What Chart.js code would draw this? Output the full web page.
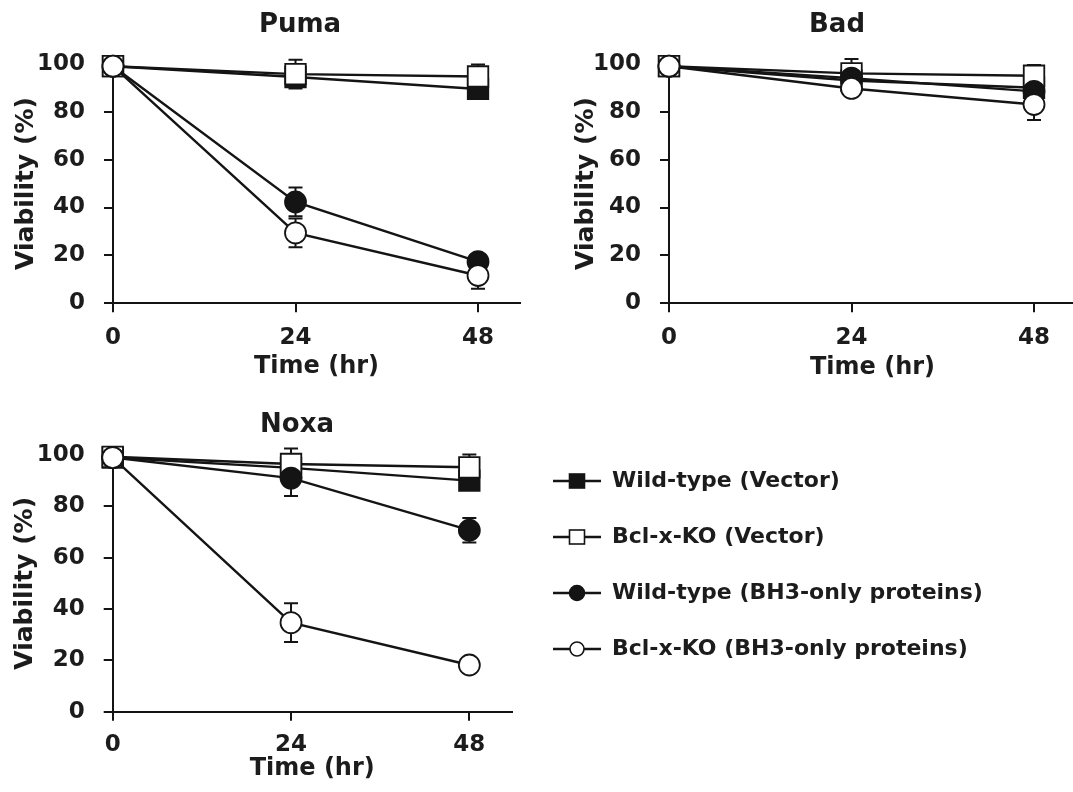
<!DOCTYPE html>
<html>
<head>
<meta charset="utf-8">
<title>Viability time course</title>
<script src="https://cdn.jsdelivr.net/npm/chart.js@4.4.1/dist/chart.umd.min.js"></script>
<style>
  html, body { margin: 0; padding: 0; background: #ffffff; }
  body { width: 1073px; height: 792px; overflow: hidden; position: relative; }
  canvas.panel { position: absolute; }
</style>
</head>
<body>
<canvas id="puma" class="panel" width="540" height="395" style="left:0px;top:0px"></canvas>
<canvas id="bad" class="panel" width="540" height="395" style="left:556px;top:0px"></canvas>
<canvas id="noxa" class="panel" width="540" height="397" style="left:0px;top:395px"></canvas>
<canvas id="legend" class="panel" width="554" height="280" style="left:519px;top:436px"></canvas>
<script>
// ---------------- data ----------------
const times = [0, 24, 48];
const xTickValues = [0, 24, 48];
const xTickLabels = ['0', '24', '48'];
const yTickValues = [0, 20, 40, 60, 80, 100];
const seriesLabels = ['Wild-type (Vector)', 'Bcl-x-KO (Vector)', 'Wild-type (BH3-only proteins)', 'Bcl-x-KO (BH3-only proteins)'];
const panelTitles = ['Puma', 'Bad', 'Noxa'];

// Puma
const pumaWtVec = [99, 94.5, 89.5];
const pumaKoVec = [99, 95.7, 94.7];
const pumaWtBh3 = [99, 42.3, 17.4];
const pumaKoBh3 = [99, 29.4, 11.6];
const pumaWtVecErr = [0, 2, 2];
const pumaKoVecErr = [0, 6, 5];
const pumaWtBh3Err = [0, 6, 2];
const pumaKoBh3Err = [0, 6, 5.5];

// Bad
const badWtVec = [99, 93, 90];
const badKoVec = [99, 96, 95];
const badWtBh3 = [99, 94, 88.5];
const badKoBh3 = [99, 89.7, 83];
const badWtVecErr = [0, 2, 2];
const badKoVecErr = [0, 6, 4.5];
const badWtBh3Err = [0, 2, 2.5];
const badKoBh3Err = [0, 2, 6.5];

// Noxa
const noxaWtVec = [99, 95, 90];
const noxaKoVec = [99.3, 96.5, 95.2];
const noxaWtBh3 = [99, 91, 70.7];
const noxaKoBh3 = [99, 34.7, 18.2];
const noxaWtVecErr = [0, 2, 2];
const noxaKoVecErr = [3, 6, 5];
const noxaWtBh3Err = [0, 7, 4.8];
const noxaKoBh3Err = [0, 7.5, 1];

// ---------------- styles ----------------
const INK = '#141414';
const TEXT = '#1c1c1c';
const FONT = 'DejaVu Sans';

const seriesStyles = [
  { pointStyle: 'rect',   filled: true,  radius: 14.5, order: 4 },
  { pointStyle: 'rect',   filled: false, radius: 14.5, order: 3 },
  { pointStyle: 'circle', filled: true,  radius: 10.5, order: 2 },
  { pointStyle: 'circle', filled: false, radius: 10.5, order: 1 }
];

function makeDatasets(values, errors) {
  return values.map((vals, i) => {
    const st = seriesStyles[i];
    return {
      label: seriesLabels[i],
      data: times.map((t, k) => ({ x: t, y: vals[k] })),
      errors: errors[i],
      borderColor: INK,
      borderWidth: 2.4,
      tension: 0,
      fill: false,
      pointStyle: st.pointStyle,
      pointRadius: st.radius,
      pointHoverRadius: st.radius,
      pointBackgroundColor: st.filled ? INK : '#ffffff',
      pointBorderColor: INK,
      pointBorderWidth: 1.8,
      order: st.order,
      clip: false
    };
  });
}

// error bars drawn beneath the markers, positioned with the chart's scales
const errorBars = {
  id: 'errorBars',
  beforeDatasetsDraw(chart) {
    const { ctx } = chart;
    const xs = chart.scales.x, ys = chart.scales.y;
    ctx.save();
    ctx.strokeStyle = INK;
    ctx.lineWidth = 2;
    chart.data.datasets.forEach(ds => {
      if (!ds.errors) return;
      ds.data.forEach((p, k) => {
        const e = ds.errors[k];
        if (!e) return;
        const px = xs.getPixelForValue(p.x);
        const top = ys.getPixelForValue(p.y + e);
        const bot = ys.getPixelForValue(p.y - e);
        ctx.beginPath();
        ctx.moveTo(px, top); ctx.lineTo(px, bot);
        ctx.moveTo(px - 7, top); ctx.lineTo(px + 7, top);
        ctx.moveTo(px - 7, bot); ctx.lineTo(px + 7, bot);
        ctx.stroke();
      });
    });
    ctx.restore();
  }
};

// panel heading (centred where the original figure places it)
const panelTitle = {
  id: 'panelTitle',
  afterDraw(chart, args, opts) {
    const ctx = chart.ctx;
    ctx.save();
    ctx.font = 'bold ' + opts.size + 'px "' + FONT + '"';
    ctx.fillStyle = TEXT;
    ctx.textAlign = 'center';
    ctx.textBaseline = 'middle';
    ctx.fillText(opts.text, opts.x, opts.y);
    ctx.restore();
  }
};

function panelOptions(p) {
  const axisGrid = { display: true, drawOnChartArea: false, drawTicks: true, tickLength: 9, color: INK, lineWidth: 2 };
  const axisBorder = { display: true, color: INK, width: 2 };
  const tickFont = { family: FONT, size: 23, weight: 'bold' };
  return {
    responsive: false,
    animation: false,
    devicePixelRatio: 1,
    events: [],
    layout: { padding: { left: 0, right: p.padR, top: p.padT, bottom: p.padB } },
    plugins: {
      legend: { display: false },
      tooltip: { enabled: false },
      title: { display: false },
      panelTitle: { text: p.title, x: p.titleX, y: p.titleY, size: 26 }
    },
    scales: {
      x: {
        type: 'linear', min: 0, max: p.xMax,
        afterBuildTicks: s => { s.ticks = xTickValues.map(v => ({ value: v })); },
        afterFit: s => { s.height = p.xH; },
        grid: axisGrid, border: axisBorder,
        ticks: { color: TEXT, font: tickFont, padding: p.xTickPad, maxRotation: 0, autoSkip: false,
                 callback: (v, i) => xTickLabels[i] },
        title: { display: true, text: 'Time (hr)', color: TEXT,
                 font: { family: FONT, size: 24, weight: 'bold' }, padding: 0 }
      },
      y: {
        type: 'linear', min: 0, max: 100,
        afterBuildTicks: s => { s.ticks = yTickValues.map(v => ({ value: v })); },
        afterFit: s => { s.width = p.yW; },
        grid: axisGrid, border: axisBorder,
        ticks: { color: TEXT, font: tickFont, padding: 19, callback: v => String(v) },
        title: { display: true, text: 'Viability (%)', color: TEXT,
                 font: { family: FONT, size: 25, weight: 'bold' },
                 padding: { top: p.yTitlePad, bottom: 0 } }
      }
    }
  };
}

function makePanel(id, values, errors, p) {
  return new Chart(document.getElementById(id), {
    type: 'line',
    data: { datasets: makeDatasets(values, errors) },
    options: panelOptions(p),
    plugins: [errorBars, panelTitle]
  });
}

makePanel('puma',
  [pumaWtVec, pumaKoVec, pumaWtBh3, pumaKoBh3],
  [pumaWtVecErr, pumaKoVecErr, pumaWtBh3Err, pumaKoBh3Err],
  { title: panelTitles[0], titleX: 300, titleY: 25, yW: 113, padR: 20, padT: 63.8, padB: 13.6, xH: 78.1,
    xMax: 53.52, yTitlePad: 11, xTickPad: 11.9 });

makePanel('bad',
  [badWtVec, badKoVec, badWtBh3, badKoBh3],
  [badWtVecErr, badKoVecErr, badWtBh3Err, badKoBh3Err],
  { title: panelTitles[1], titleX: 281, titleY: 25, yW: 113, padR: 20, padT: 63.8, padB: 12.6, xH: 79.1,
    xMax: 53.52, yTitlePad: 15, xTickPad: 11.9 });

makePanel('noxa',
  [noxaWtVec, noxaKoVec, noxaWtBh3, noxaKoBh3],
  [noxaWtVecErr, noxaKoVecErr, noxaWtBh3Err, noxaKoBh3Err],
  { title: panelTitles[2], titleX: 297, titleY: 30, yW: 112.7, padR: 28.3, padT: 60, padB: 8.6, xH: 71.7,
    xMax: 53.7, yTitlePad: 10, xTickPad: 10.5 });

// ---------------- legend ----------------
function makeIcon(st) {
  const c = document.createElement('canvas');
  c.width = 48; c.height = 24;
  const g = c.getContext('2d');
  g.strokeStyle = INK; g.lineWidth = 2.6;
  g.beginPath(); g.moveTo(0, 12); g.lineTo(48, 12); g.stroke();
  g.fillStyle = st.filled ? INK : '#ffffff';
  g.lineWidth = 1.6;
  if (st.pointStyle === 'rect') {
    g.fillRect(24 - 7.5, 12 - 7, 15, 14);
    g.strokeRect(24 - 7.5, 12 - 7, 15, 14);
  } else {
    g.beginPath(); g.arc(24, 12, st.filled ? 7.5 : 7, 0, Math.PI * 2);
    g.fill(); g.stroke();
  }
  return c;
}
const legendIcons = seriesStyles.map(makeIcon);

new Chart(document.getElementById('legend'), {
  type: 'line',
  data: { datasets: seriesLabels.map(l => ({ label: l, data: [] })) },
  options: {
    responsive: false, animation: false, devicePixelRatio: 1, events: [],
    layout: { padding: 0 },
    scales: { x: { display: false }, y: { display: false } },
    plugins: {
      tooltip: { enabled: false },
      legend: {
        display: true, position: 'left', align: 'start', maxWidth: 1000,
        labels: {
          usePointStyle: true, pointStyleWidth: 48, padding: 34, color: TEXT,
          font: { family: FONT, size: 22, weight: 'bold' },
          generateLabels: chart => chart.data.datasets.map((ds, i) => ({
            text: ds.label, pointStyle: legendIcons[i], fillStyle: '#ffffff',
            strokeStyle: '#ffffff', lineWidth: 0, hidden: false, datasetIndex: i, fontColor: TEXT
          }))
        }
      }
    }
  }
});
</script>
</body>
</html>
